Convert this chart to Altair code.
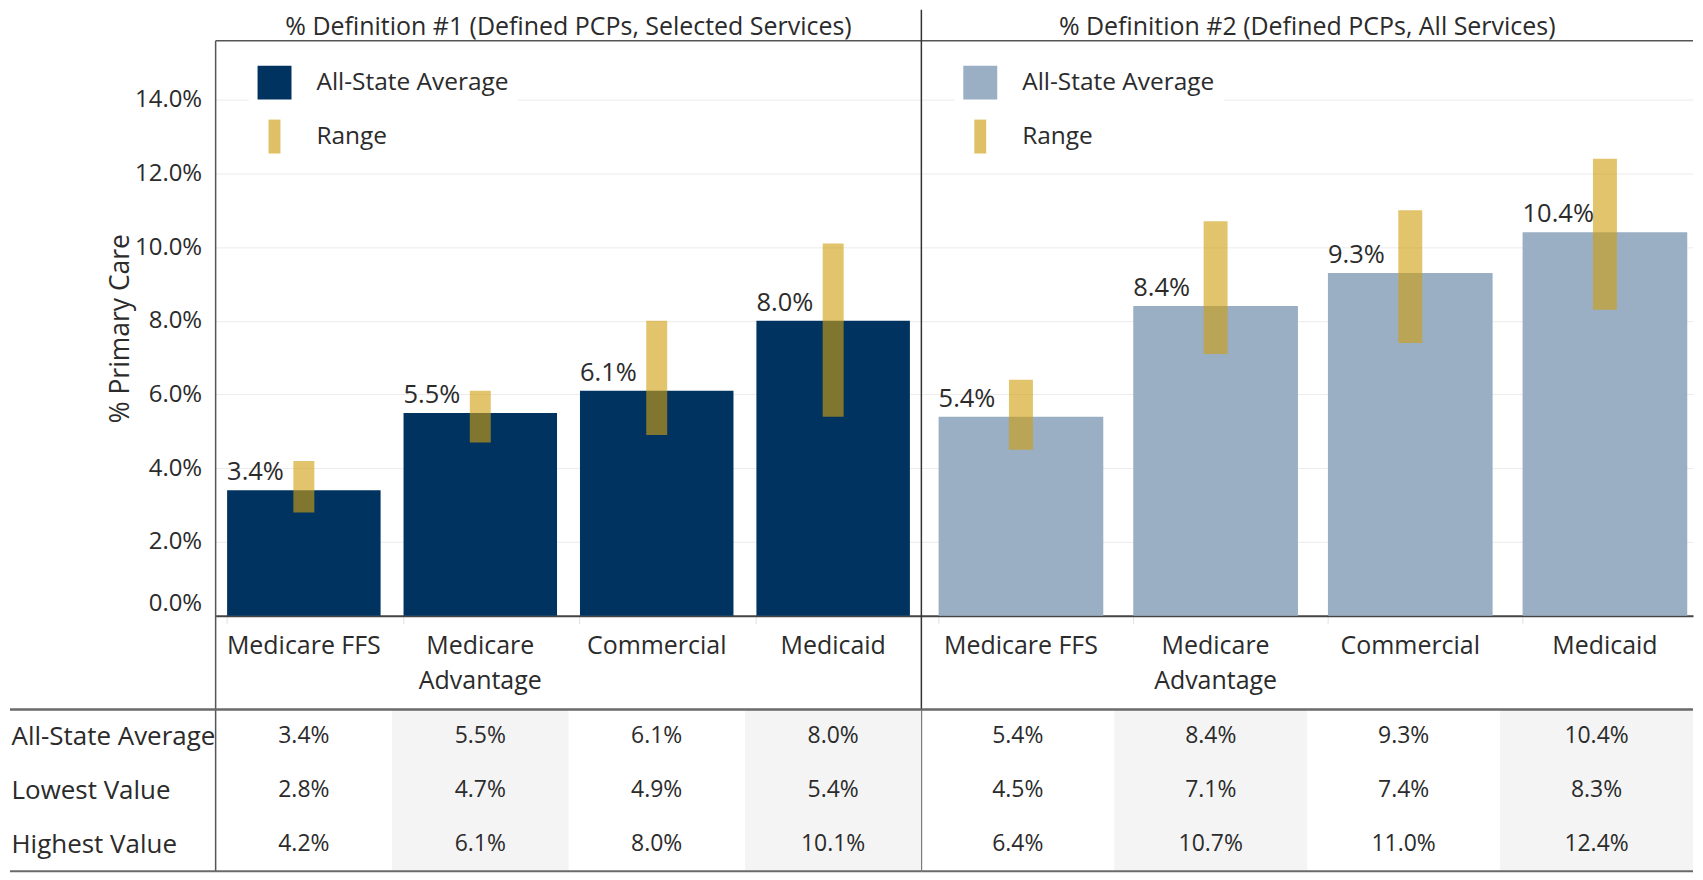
import altair as alt
import pandas as pd

# ---------------- data ----------------
categories = ["Medicare FFS", "Medicare Advantage", "Commercial", "Medicaid"]
panel_titles = ["% Definition #1 (Defined PCPs, Selected Services)",
                "% Definition #2 (Defined PCPs, All Services)"]
def1_average = [3.4, 5.5, 6.1, 8.0]
def1_lowest = [2.8, 4.7, 4.9, 5.4]
def1_highest = [4.2, 6.1, 8.0, 10.1]
def2_average = [5.4, 8.4, 9.3, 10.4]
def2_lowest = [4.5, 7.1, 7.4, 8.3]
def2_highest = [6.4, 10.7, 11.0, 12.4]
row_labels = ["All-State Average", "Lowest Value", "Highest Value"]
legend_items = ["All-State Average", "Range"]
y_ticks = [0, 2, 4, 6, 8, 10, 12, 14]
shaded_columns = ["Medicare Advantage", "Medicaid"]

# ---------------- style ----------------
NAVY = "#00335F"
LIGHT = "#9AAEC4"
GOLD = "#CF9F12"
GOLD_LEGEND = "#E0C066"
TEXT = "#2b2b2b"
FONT = "Open Sans"
W1, W2 = 707, 773
H = 576
TOP = 31
GAP = 94
TH = 162
Y_MAX = 15.6

one = pd.DataFrame({"k": [0]})


def bar_panel(title, avg, low, high, color, width, inner, outer, align, bar_w, first):
    df = pd.DataFrame({"cat": categories, "avg": avg, "low": low, "high": high})
    base = alt.Chart(df)
    xscale = alt.Scale(domain=categories, paddingInner=inner, paddingOuter=outer,
                       align=align)
    xaxis = alt.Axis(
        title=None,
        labelExpr="length(datum.label) > 14 ? split(datum.label, ' ') : datum.label",
        labelFontSize=25, labelColor=TEXT, labelFont=FONT, labelPadding=10,
        labelBaseline="top", labelLineHeight=35, labelAngle=0, labelLimit=0,
        domainColor="#444", domainWidth=2, ticks=True, tickColor="#e3e3e3",
        tickSize=8, bandPosition=0, grid=False,
    )
    if first:
        yaxis = alt.Axis(
            values=y_ticks, labelExpr="format(datum.value, '.1f') + '%'",
            title="% Primary Care", titleFontSize=26.5, titleFontWeight="normal",
            titleColor=TEXT, titleFont=FONT, labelFontSize=24, labelColor=TEXT,
            labelFont=FONT, labelPadding=14, ticks=False, domain=False,
            gridColor="#ebebeb", labelFlush=True, titlePadding=0,
        )
    else:
        yaxis = alt.Axis(values=y_ticks, labels=False, ticks=False, domain=False,
                         title=None, gridColor="#ebebeb")
    yscale = alt.Scale(domain=[0, Y_MAX], nice=False, zero=True)

    bars = base.mark_bar(color=color).encode(
        x=alt.X("cat:N", scale=xscale, axis=xaxis),
        y=alt.Y("avg:Q", scale=yscale, axis=yaxis),
    )
    rng = base.mark_bar(color=GOLD, opacity=0.62, width=bar_w).encode(
        x="cat:N", y="low:Q", y2="high:Q"
    )
    labels = base.transform_calculate(
        txt="format(datum.avg, '.1f') + '%'"
    ).mark_text(align="left", baseline="bottom", dy=-5, fontSize=25.5,
                color=TEXT, font=FONT).encode(
        x=alt.X("cat:N", bandPosition=0), y="avg:Q", text="txt:N"
    )
    legend_cfg = dict(
        title=None, orient="none", legendX=33, legendY=16, padding=9,
        fillColor="white", symbolSize=1156, symbolStrokeWidth=0,
        symbolOpacity=1, labelFontSize=24.5, labelColor=TEXT, labelFont=FONT,
        labelOffset=25, rowPadding=20, labelLimit=0,
    )
    leg = alt.Chart(pd.DataFrame({"series": legend_items})).mark_point(
        filled=True, size=0, opacity=0
    ).encode(
        color=alt.Color("series:N",
                        scale=alt.Scale(domain=legend_items, range=[color, GOLD_LEGEND]),
                        legend=alt.Legend(**legend_cfg)),
        shape=alt.Shape("series:N",
                        scale=alt.Scale(domain=legend_items,
                                        range=["square", "M-0.35,-1H0.35V1H-0.35Z"]),
                        legend=alt.Legend(**legend_cfg)),
    )
    vline = alt.Chart(one).mark_rule(
        color="#555" if first else "#333", strokeWidth=1.5
    ).encode(
        x=alt.value(0), y=alt.value(0 if first else -TOP), y2=alt.value(H + GAP + TH)
    )
    hline = alt.Chart(one).mark_rule(color="#555", strokeWidth=1.5).encode(
        x=alt.value(0), x2=alt.value(width), y=alt.value(0)
    )
    ttl = alt.Chart(pd.DataFrame({"t": [title]})).mark_text(
        fontSize=25, color=TEXT, font=FONT, baseline="middle", align="center"
    ).encode(text="t:N", x=alt.value(width / 2), y=alt.value(-14))
    return alt.layer(bars, rng, labels, leg, hline, vline, ttl).properties(
        width=width, height=H)


def table_panel(avg, low, high, width, first):
    recs = []
    for row, vals in zip(row_labels, [avg, low, high]):
        for c, v in zip(categories, vals):
            recs.append({"cat": c, "row": row, "txt": f"{v:.1f}%"})
    df = pd.DataFrame(recs)
    xs = alt.Scale(domain=categories, paddingInner=0, paddingOuter=0)
    ys = alt.Scale(domain=row_labels, paddingInner=0, paddingOuter=0)
    shade = alt.Chart(pd.DataFrame({"cat": shaded_columns})).mark_rect(
        color="#F4F4F4"
    ).encode(x=alt.X("cat:N", scale=xs, axis=None))
    if first:
        yaxis = alt.Axis(title=None, labelAlign="left", labelPadding=205,
                         labelFontSize=26, labelColor=TEXT, labelFont=FONT,
                         ticks=False, domain=False, labelLimit=0, grid=False)
    else:
        yaxis = None
    txt = alt.Chart(df).mark_text(fontSize=23, color=TEXT, font=FONT).encode(
        x=alt.X("cat:N", scale=xs, axis=None),
        y=alt.Y("row:N", scale=ys, axis=yaxis),
        text="txt:N",
    )
    x0 = -206 if first else 0
    top_line = alt.Chart(one).mark_rule(color="#6a6a6a", strokeWidth=2.5).encode(
        x=alt.value(x0), x2=alt.value(width), y=alt.value(0)
    )
    bot_line = alt.Chart(one).mark_rule(color="#6a6a6a", strokeWidth=2).encode(
        x=alt.value(x0), x2=alt.value(width), y=alt.value(TH)
    )
    return alt.layer(shade, txt, top_line, bot_line).properties(width=width, height=TH)


b1 = bar_panel(panel_titles[0], def1_average, def1_lowest, def1_highest,
               NAVY, W1, 0.13, 0.065, 0.5, 21, True)
b2 = bar_panel(panel_titles[1], def2_average, def2_lowest, def2_highest,
               LIGHT, W2, 0.154, 0.059, 0.75, 24, False)
t1 = table_panel(def1_average, def1_lowest, def1_highest, W1, True)
t2 = table_panel(def2_average, def2_lowest, def2_highest, W2, False)

chart = alt.concat(
    b1, b2, t1, t2, columns=2, spacing={"row": GAP, "column": 0}, bounds="flush"
).resolve_scale(
    color="independent", shape="independent"
).properties(padding=0).configure(font=FONT).configure_view(
    stroke="transparent", strokeWidth=0
)

chart.save("out.html", embed_options={"renderer": "svg", "actions": False})
